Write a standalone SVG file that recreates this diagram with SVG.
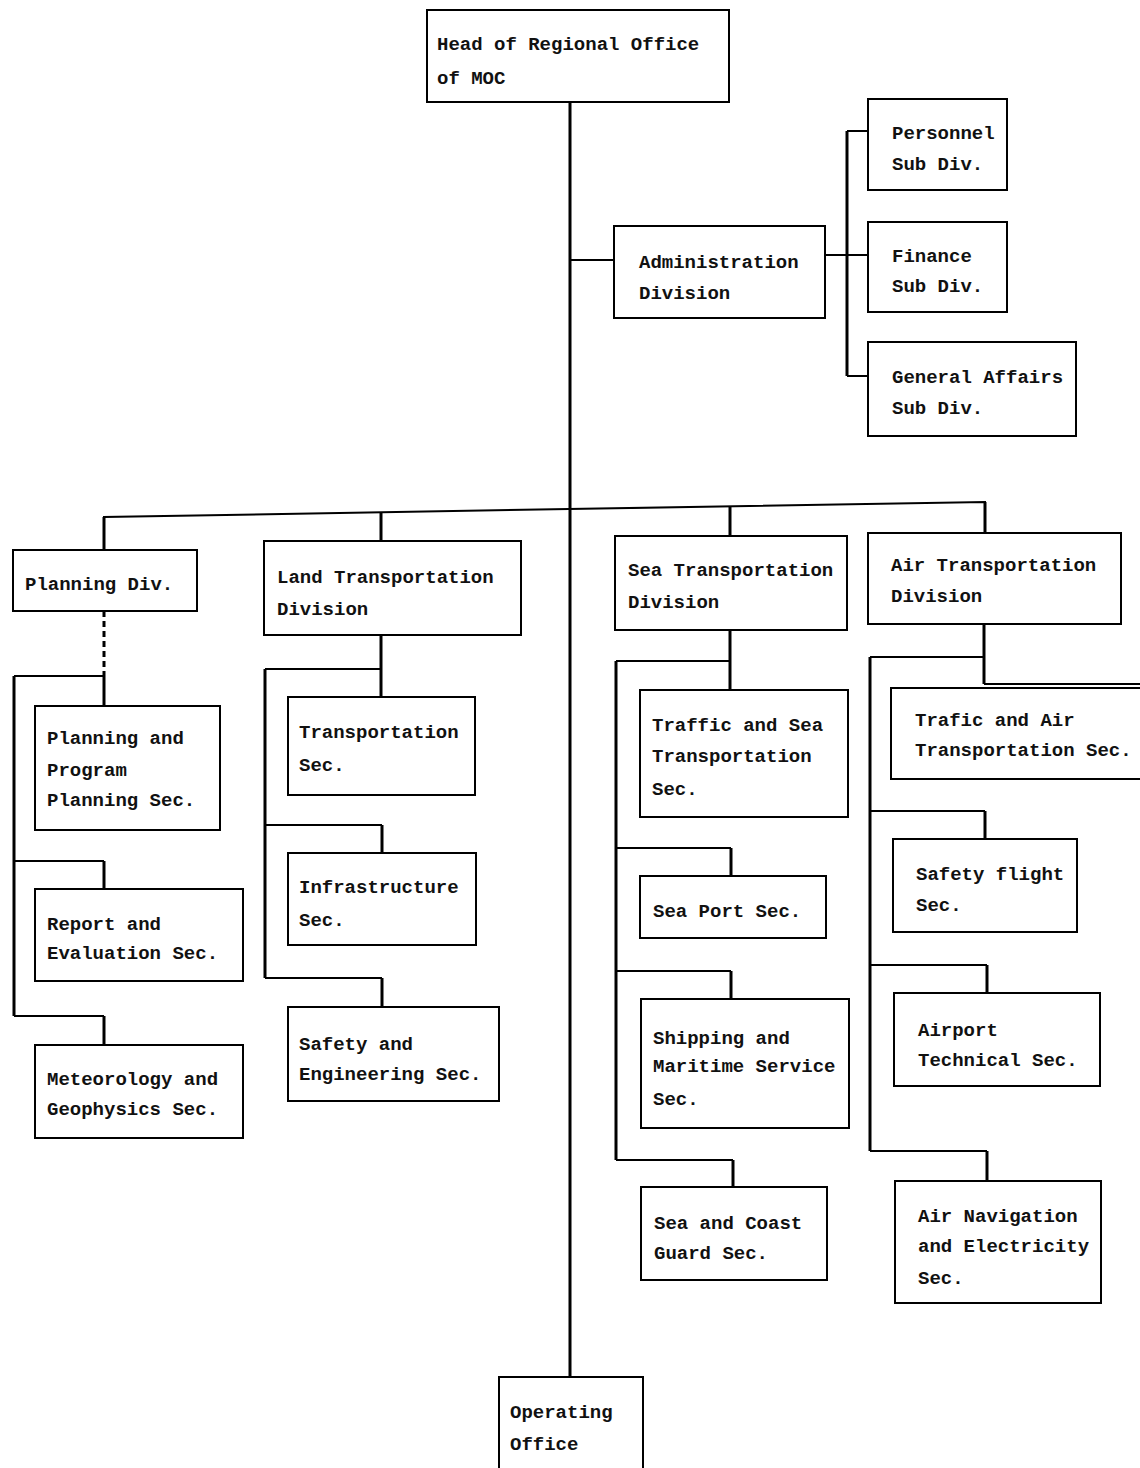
<svg xmlns="http://www.w3.org/2000/svg" width="1140" height="1468" viewBox="0 0 1140 1468">
<style>
.box{fill:#fff;stroke:#000;stroke-width:2}
text{font-family:"Liberation Mono","DejaVu Sans Mono",monospace;font-size:19px;font-weight:bold;fill:#111}
.c{fill:none;stroke:#000;stroke-width:2}
.v{fill:none;stroke:#000;stroke-width:3}
.d{fill:none;stroke:#000;stroke-width:3;stroke-dasharray:6 4}
</style>
<rect width="1140" height="1468" fill="#fff"/>
<g id="connectors">
<line class="v" x1="570" y1="102" x2="570" y2="1377"/>
<line class="c" x1="570" y1="260" x2="614" y2="260"/>
<line class="c" x1="825" y1="255" x2="868" y2="255"/>
<line class="v" x1="847" y1="131" x2="847" y2="376"/>
<polyline class="c" points="847,131 868,131"/>
<polyline class="c" points="847,376 868,376"/>
<polyline class="c" points="104,551 104,517 985,502 985,533"/>
<line class="v" x1="104" y1="517" x2="104" y2="551"/>
<line class="v" x1="985" y1="502" x2="985" y2="533"/>
<line class="v" x1="381" y1="512" x2="381" y2="541"/>
<line class="v" x1="730" y1="506" x2="730" y2="536"/>
<line class="d" x1="104" y1="611" x2="104" y2="676"/>
<line class="v" x1="104" y1="676" x2="104" y2="706"/>
<polyline class="c" points="104,676 14,676"/>
<line class="v" x1="14" y1="676" x2="14" y2="1016"/>
<polyline class="c" points="14,861 104,861"/>
<line class="v" x1="104" y1="861" x2="104" y2="889"/>
<polyline class="c" points="14,1016 104,1016"/>
<line class="v" x1="104" y1="1016" x2="104" y2="1045"/>
<line class="v" x1="381" y1="635" x2="381" y2="697"/>
<polyline class="c" points="381,669 265,669"/>
<line class="v" x1="265" y1="669" x2="265" y2="978"/>
<polyline class="c" points="265,825 382,825"/>
<line class="v" x1="382" y1="825" x2="382" y2="853"/>
<polyline class="c" points="265,978 382,978"/>
<line class="v" x1="382" y1="978" x2="382" y2="1007"/>
<line class="v" x1="730" y1="630" x2="730" y2="690"/>
<polyline class="c" points="730,661 616,661"/>
<line class="v" x1="616" y1="661" x2="616" y2="1160"/>
<polyline class="c" points="616,848 731,848"/>
<line class="v" x1="731" y1="848" x2="731" y2="876"/>
<polyline class="c" points="616,971 731,971"/>
<line class="v" x1="731" y1="971" x2="731" y2="999"/>
<polyline class="c" points="616,1160 733,1160"/>
<line class="v" x1="733" y1="1160" x2="733" y2="1187"/>
<line class="v" x1="984" y1="624" x2="984" y2="684"/>
<polyline class="c" points="984,684 1140,684"/>
<polyline class="c" points="984,657 870,657"/>
<line class="v" x1="870" y1="657" x2="870" y2="1151"/>
<polyline class="c" points="870,811 985,811"/>
<line class="v" x1="985" y1="811" x2="985" y2="839"/>
<polyline class="c" points="870,965 987,965"/>
<line class="v" x1="987" y1="965" x2="987" y2="993"/>
<polyline class="c" points="870,1151 987,1151"/>
<line class="v" x1="987" y1="1151" x2="987" y2="1181"/>
</g>
<g id="head"><rect class="box" x="427" y="10" width="302" height="92"/><text x="437" y="50">Head of Regional Office</text><text x="437" y="84">of MOC</text></g>
<g id="admin"><rect class="box" x="614" y="226" width="211" height="92"/><text x="639" y="268">Administration</text><text x="639" y="299">Division</text></g>
<g id="personnel"><rect class="box" x="868" y="99" width="139" height="91"/><text x="892" y="139">Personnel</text><text x="892" y="170">Sub Div.</text></g>
<g id="finance"><rect class="box" x="868" y="222" width="139" height="90"/><text x="892" y="262">Finance</text><text x="892" y="292">Sub Div.</text></g>
<g id="general"><rect class="box" x="868" y="342" width="208" height="94"/><text x="892" y="383">General Affairs</text><text x="892" y="414">Sub Div.</text></g>
<g id="planning-div"><rect class="box" x="13" y="550" width="184" height="61"/><text x="25" y="590">Planning Div.</text></g>
<g id="land-div"><rect class="box" x="264" y="541" width="257" height="94"/><text x="277" y="583">Land Transportation</text><text x="277" y="615">Division</text></g>
<g id="sea-div"><rect class="box" x="615" y="536" width="232" height="94"/><text x="628" y="576">Sea Transportation</text><text x="628" y="608">Division</text></g>
<g id="air-div"><rect class="box" x="868" y="533" width="253" height="91"/><text x="891" y="571">Air Transportation</text><text x="891" y="602">Division</text></g>
<g id="planning-program"><rect class="box" x="35" y="706" width="185" height="124"/><text x="47" y="744">Planning and</text><text x="47" y="776">Program</text><text x="47" y="806">Planning Sec.</text></g>
<g id="report-eval"><rect class="box" x="35" y="889" width="208" height="92"/><text x="47" y="930">Report and</text><text x="47" y="959">Evaluation Sec.</text></g>
<g id="meteorology"><rect class="box" x="35" y="1045" width="208" height="93"/><text x="47" y="1085">Meteorology and</text><text x="47" y="1115">Geophysics Sec.</text></g>
<g id="transportation-sec"><rect class="box" x="288" y="697" width="187" height="98"/><text x="299" y="738">Transportation</text><text x="299" y="771">Sec.</text></g>
<g id="infrastructure"><rect class="box" x="288" y="853" width="188" height="92"/><text x="299" y="893">Infrastructure</text><text x="299" y="926">Sec.</text></g>
<g id="safety-eng"><rect class="box" x="288" y="1007" width="211" height="94"/><text x="299" y="1050">Safety and</text><text x="299" y="1080">Engineering Sec.</text></g>
<g id="traffic-sea"><rect class="box" x="640" y="690" width="208" height="127"/><text x="652" y="731">Traffic and Sea</text><text x="652" y="762">Transportation</text><text x="652" y="795">Sec.</text></g>
<g id="sea-port"><rect class="box" x="640" y="876" width="186" height="62"/><text x="653" y="917">Sea Port Sec.</text></g>
<g id="shipping"><rect class="box" x="641" y="999" width="208" height="129"/><text x="653" y="1044">Shipping and</text><text x="653" y="1072">Maritime Service</text><text x="653" y="1105">Sec.</text></g>
<g id="coast-guard"><rect class="box" x="641" y="1187" width="186" height="93"/><text x="654" y="1229">Sea and Coast</text><text x="654" y="1259">Guard Sec.</text></g>
<g id="trafic-air"><rect class="box" x="891" y="688" width="252" height="91"/><text x="915" y="726">Trafic and Air</text><text x="915" y="756">Transportation Sec.</text></g>
<g id="safety-flight"><rect class="box" x="893" y="839" width="184" height="93"/><text x="916" y="880">Safety flight</text><text x="916" y="911">Sec.</text></g>
<g id="airport"><rect class="box" x="894" y="993" width="206" height="93"/><text x="918" y="1036">Airport</text><text x="918" y="1066">Technical Sec.</text></g>
<g id="air-nav"><rect class="box" x="895" y="1181" width="206" height="122"/><text x="918" y="1222">Air Navigation</text><text x="918" y="1252">and Electricity</text><text x="918" y="1284">Sec.</text></g>
<g id="operating"><rect class="box" x="499" y="1377" width="144" height="95"/><text x="510" y="1418">Operating</text><text x="510" y="1450">Office</text></g>
</svg>
